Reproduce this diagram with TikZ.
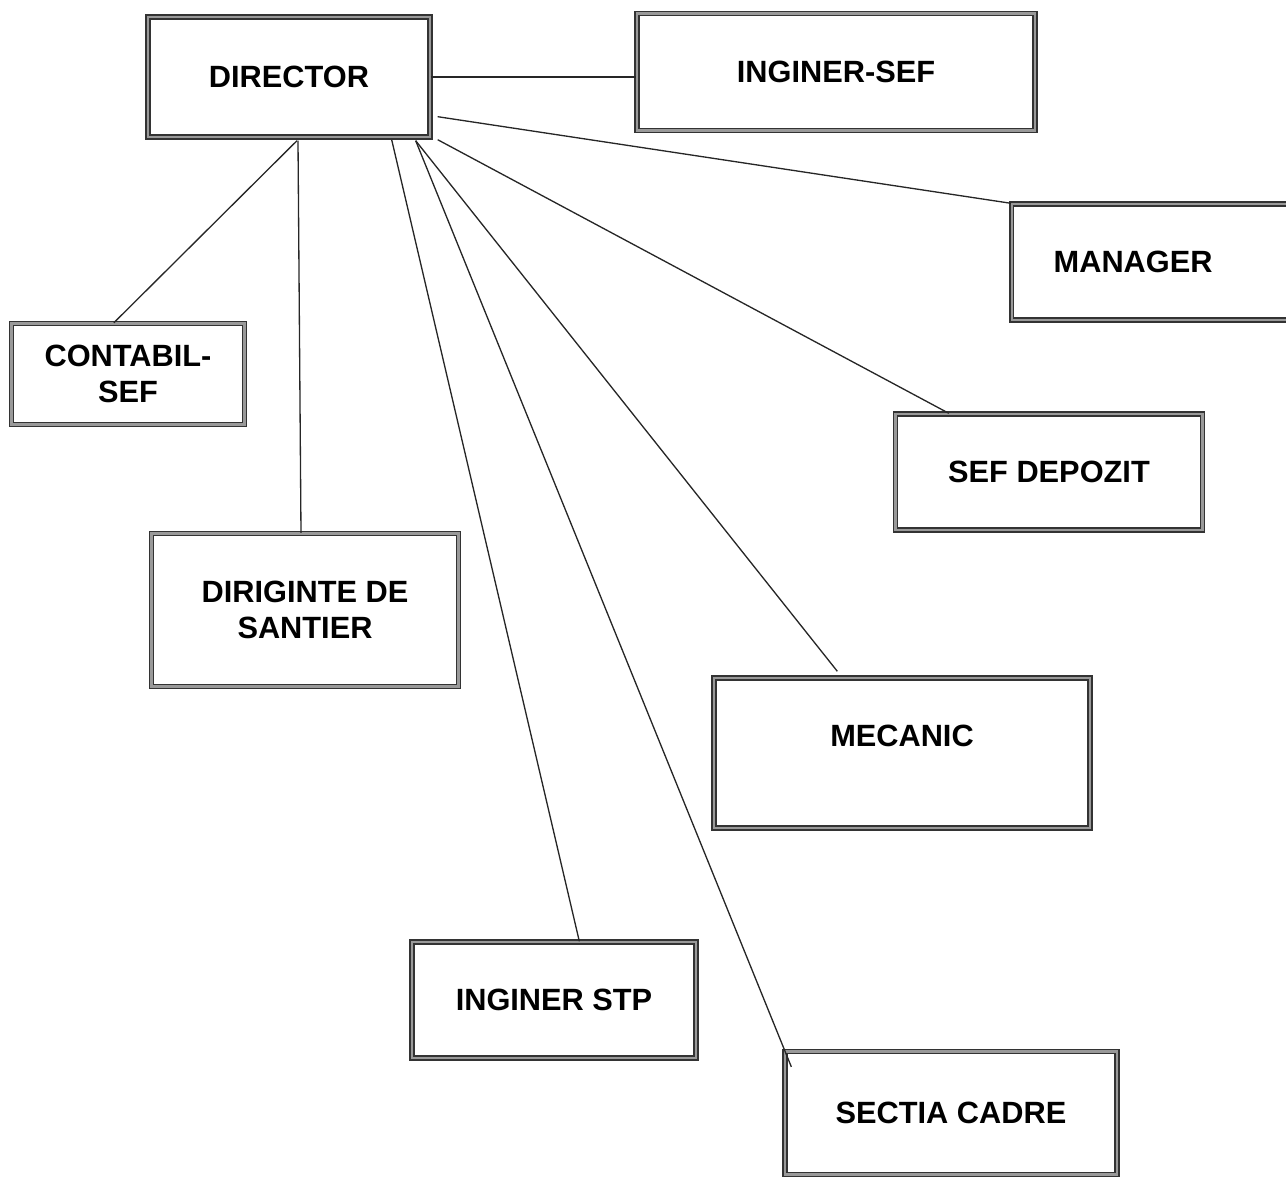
\documentclass[tikz,border=0pt]{standalone}
\usepackage{fontspec}
\setmainfont{Liberation Sans}
\begin{document}
\begin{tikzpicture}[x=0.02cm,y=-0.02cm,
  post/.style={draw=black!80, line width=0.8pt, double=black!40, double distance=1.3pt,
    fill=white, align=center, font=\fontsize{17.5}{20.5}\selectfont\bfseries},
  link/.style={line width=0.75pt, black!85}]
\useasboundingbox (0,0) rectangle (1286,1177);
% the boxes
\node[post, minimum width=5.64cm, minimum height=2.4cm] (dir) at (289,77) {DIRECTOR};
\node[post, minimum width=7.96cm, minimum height=2.34cm] (ingsef) at (836,72) {INGINER-SEF};
\node[post, anchor=west, minimum height=2.32cm, text width=4.4cm, align=left, inner xsep=0.84cm] (mgr) at (1011,262) {MANAGER};
\node[post, minimum width=4.66cm, minimum height=2.02cm] (contab) at (128,374) {CONTABIL-\\SEF};
\node[post, minimum width=6.14cm, minimum height=3.06cm] (dirig) at (305,610) {DIRIGINTE DE\\SANTIER};
\node[post, minimum width=6.14cm, minimum height=2.32cm] (sefdep) at (1049,472) {SEF DEPOZIT};
\node[post, minimum width=7.52cm, minimum height=3.0cm, text depth=0.7cm] (mec) at (902,753) {MECANIC};
\node[post, minimum width=5.68cm, minimum height=2.32cm] (ingstp) at (554,1000) {INGINER STP};
\node[post, minimum width=6.64cm, minimum height=2.46cm] (cadre) at (951,1113) {SECTIA CADRE};
% the lines out of DIRECTOR
\draw[link] (dir.east) -- (dir.east -| ingsef.west);
\draw[link] ([shift={(7,-21)}]dir.south east) -- (mgr.north west);
\draw[link] ([shift={(7,2)}]dir.south east) -- ([shift={(54,0)}]sefdep.north west);
\draw[link] ([shift={(-15,3)}]dir.south east) -- ([shift={(124,-6)}]mec.north west);
\draw[link] ([shift={(-15,3)}]dir.south east) -- ([shift={(7,16)}]cadre.north west);
\draw[link] ([shift={(-39,2)}]dir.south east) -- ([shift={(168,0)}]ingstp.north west);
\draw[link] ([shift={(8,3)}]dir.south) -- ([shift={(103,0)}]contab.north west);
\draw[link] ([shift={(9,3)}]dir.south) -- ([shift={(-4,0)}]dirig.north);
\end{tikzpicture}
\end{document}
